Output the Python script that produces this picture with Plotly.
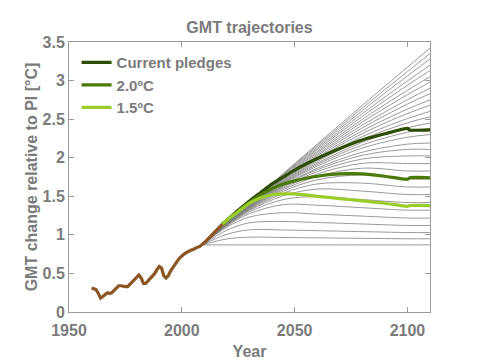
import plotly.graph_objects as go

# ---------------- data ----------------
hist_years = list(range(1960, 2019))
hist_values = [0.31, 0.30, 0.29, 0.24, 0.18, 0.20, 0.23, 0.25, 0.24, 0.25,
               0.28, 0.31, 0.34, 0.34, 0.33, 0.33, 0.33, 0.36, 0.39, 0.41,
               0.45, 0.48, 0.44, 0.37, 0.37, 0.40, 0.43, 0.46, 0.50, 0.55,
               0.59, 0.57, 0.47, 0.44, 0.47, 0.53, 0.58, 0.62, 0.66, 0.70,
               0.73, 0.75, 0.77, 0.79, 0.80, 0.81, 0.83, 0.84, 0.85, 0.87,
               0.90, 0.93, 0.96, 0.99, 1.02, 1.05, 1.08, 1.11, 1.14]

scen_years = [2018, 2020, 2025, 2030, 2035, 2040, 2045, 2050, 2060, 2070, 2080, 2090, 2100, 2101, 2110]
pledges_values = [1.14, 1.19, 1.32, 1.44, 1.55, 1.66, 1.75, 1.84, 1.99, 2.12, 2.23, 2.31, 2.38, 2.36, 2.36]
two_deg_values = [1.14, 1.19, 1.31, 1.42, 1.52, 1.60, 1.66, 1.70, 1.76, 1.79, 1.79, 1.76, 1.72, 1.74, 1.74]
one_five_values = [1.14, 1.19, 1.30, 1.41, 1.48, 1.52, 1.53, 1.53, 1.50, 1.47, 1.44, 1.41, 1.37, 1.38, 1.38]

gray_years = [2009, 2020, 2030, 2045, 2060, 2080, 2100, 2110]
gray_values = [
    [0.87, 0.870, 0.870, 0.870, 0.870, 0.870, 0.870, 0.870],
    [0.87, 0.947, 0.970, 0.966, 0.961, 0.955, 0.949, 0.949],
    [0.87, 1.007, 1.065, 1.063, 1.054, 1.042, 1.030, 1.030],
    [0.87, 1.061, 1.156, 1.173, 1.160, 1.141, 1.122, 1.122],
    [0.87, 1.100, 1.231, 1.287, 1.268, 1.243, 1.218, 1.218],
    [0.87, 1.116, 1.274, 1.392, 1.384, 1.352, 1.320, 1.320],
    [0.87, 1.124, 1.298, 1.458, 1.495, 1.457, 1.419, 1.419],
    [0.87, 1.128, 1.315, 1.507, 1.594, 1.567, 1.523, 1.523],
    [0.87, 1.132, 1.326, 1.539, 1.660, 1.670, 1.621, 1.621],
    [0.87, 1.133, 1.334, 1.566, 1.713, 1.777, 1.723, 1.723],
    [0.87, 1.135, 1.341, 1.586, 1.756, 1.864, 1.828, 1.828],
    [0.87, 1.137, 1.347, 1.603, 1.789, 1.927, 1.924, 1.924],
    [0.87, 1.139, 1.353, 1.618, 1.819, 1.983, 2.023, 2.023],
    [0.87, 1.140, 1.357, 1.632, 1.844, 2.031, 2.108, 2.107],
    [0.87, 1.141, 1.360, 1.640, 1.863, 2.071, 2.176, 2.190],
    [0.87, 1.142, 1.364, 1.654, 1.891, 2.125, 2.265, 2.300],
    [0.87, 1.143, 1.368, 1.664, 1.911, 2.165, 2.330, 2.380],
    [0.87, 1.144, 1.371, 1.673, 1.929, 2.199, 2.387, 2.450],
    [0.87, 1.145, 1.374, 1.683, 1.950, 2.239, 2.452, 2.530],
    [0.87, 1.145, 1.377, 1.692, 1.968, 2.273, 2.508, 2.600],
    [0.87, 1.146, 1.381, 1.702, 1.988, 2.313, 2.573, 2.680],
    [0.87, 1.147, 1.384, 1.711, 2.006, 2.348, 2.630, 2.750],
    [0.87, 1.148, 1.387, 1.721, 2.026, 2.387, 2.695, 2.830],
    [0.87, 1.149, 1.390, 1.730, 2.044, 2.422, 2.752, 2.900],
    [0.87, 1.150, 1.394, 1.740, 2.064, 2.461, 2.817, 2.980],
    [0.87, 1.151, 1.397, 1.749, 2.082, 2.496, 2.874, 3.050],
    [0.87, 1.152, 1.400, 1.760, 2.103, 2.535, 2.939, 3.130],
    [0.87, 1.152, 1.403, 1.768, 2.121, 2.570, 2.996, 3.200],
    [0.87, 1.153, 1.407, 1.779, 2.141, 2.609, 3.061, 3.280],
    [0.87, 1.154, 1.410, 1.787, 2.159, 2.644, 3.117, 3.350],
    [0.87, 1.155, 1.413, 1.796, 2.177, 2.678, 3.174, 3.420],
]

x_ticks = [1950, 2000, 2050, 2100]
y_ticks = [0, 0.5, 1, 1.5, 2, 2.5, 3, 3.5]

# ---------------- figure ----------------
TXT = "#7b7b7b"
FONT = "Liberation Sans"
fig = go.Figure()

for vals in gray_values:
    fig.add_trace(go.Scatter(x=gray_years, y=vals, mode="lines",
                             line=dict(color="#808080", width=0.8, shape="spline"),
                             showlegend=False, hoverinfo="skip"))

fig.add_trace(go.Scatter(x=scen_years, y=pledges_values, mode="lines", name="Current pledges",
                         line=dict(color="#2f4d00", width=3.2, shape="spline", smoothing=0.6)))
fig.add_trace(go.Scatter(x=scen_years, y=two_deg_values, mode="lines", name="2.0ºC",
                         line=dict(color="#4b7a08", width=3.2, shape="spline", smoothing=0.6)))
fig.add_trace(go.Scatter(x=scen_years, y=one_five_values, mode="lines", name="1.5ºC",
                         line=dict(color="#9ccc2c", width=3.2, shape="spline", smoothing=0.6)))
fig.add_trace(go.Scatter(x=hist_years, y=hist_values, mode="lines",
                         line=dict(color="#8b5524", width=3.2), showlegend=False))

axis_common = dict(showline=True, linecolor="#9a9a9a", linewidth=1, mirror="ticks",
                   ticks="inside", ticklen=5, tickcolor="#9a9a9a", showgrid=False,
                   zeroline=False, automargin=False,
                   tickfont=dict(family=FONT, size=16, color=TXT, weight="bold"))

fig.update_layout(
    width=482, height=362,
    margin=dict(l=69, r=52, t=42, b=50),
    paper_bgcolor="white", plot_bgcolor="white",
    title=dict(text="GMT trajectories", x=0.5, xanchor="center", xref="paper",
               y=0.923, yanchor="middle",
               font=dict(family=FONT, size=16, color=TXT, weight="bold")),
    xaxis=dict(range=[1950, 2110], tickvals=x_ticks, ticklabelstandoff=4,
               title=dict(text="Year", standoff=7,
                          font=dict(family=FONT, size=16, color=TXT, weight="bold")),
               **axis_common),
    yaxis=dict(range=[0, 3.5], tickvals=y_ticks,
               title=dict(text="GMT change relative to PI [°C]", standoff=0,
                          font=dict(family=FONT, size=16, color=TXT, weight="bold")),
               **axis_common),
    legend=dict(x=0.021, y=0.985, xanchor="left", yanchor="top", bgcolor="rgba(0,0,0,0)",
                font=dict(family=FONT, size=15, color=TXT, weight="bold"),
                tracegroupgap=0, itemwidth=30),
    showlegend=True,
)

fig.write_html("out.html", config={"displayModeBar": False},
               post_script="document.body.style.margin='0';document.body.style.padding='0';")
